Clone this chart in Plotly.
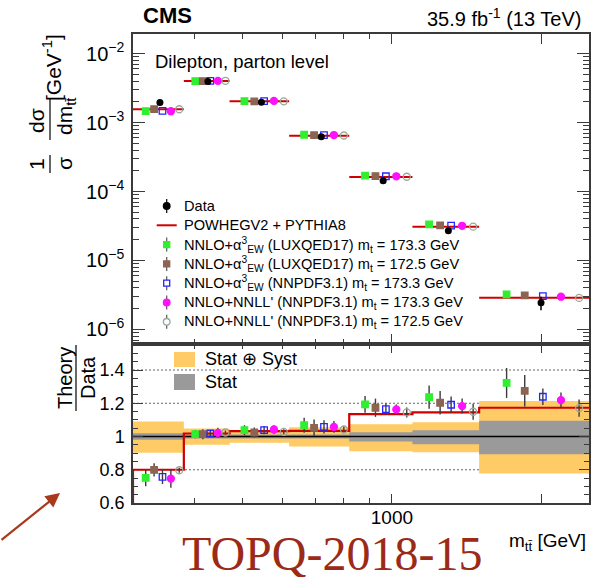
import numpy as np
import plotly.graph_objects as go

# m_tt binning [GeV]
bin_edges = [300, 380, 470, 620, 820, 1100, 1500, 2500]

# Normalised differential cross section (data) [GeV^-1]
data_xsec = [1.96e-3, 3.95e-3, 1.98e-3, 6.24e-4, 1.43e-4, 2.69e-5, 2.44e-6]

# Theory / Data ratios
ratio_powheg = [0.800, 1.018, 1.032, 1.034, 1.135, 1.145, 1.173]
ratio_lux_1733 = [0.751, 1.014, 1.038, 1.068, 1.193, 1.237, 1.322]
ratio_lux_1725 = [0.799, 1.014, 1.024, 1.052, 1.173, 1.203, 1.275]
ratio_nnpdf_ew_1733 = [0.757, 1.018, 1.038, 1.058, 1.165, 1.191, 1.239]
ratio_nnll_1733 = [0.747, 1.022, 1.042, 1.058, 1.163, 1.183, 1.219]
ratio_nnll_1725 = [0.797, 1.024, 1.028, 1.042, 1.145, 1.149, 1.171]

# Theory uncertainties on the ratio
err_lux_1733 = [0.050, 0.025, 0.030, 0.045, 0.050, 0.070, 0.090]
err_lux_1725 = [0.040, 0.030, 0.030, 0.050, 0.055, 0.070, 0.095]
err_nnpdf_ew_1733 = [0.043, 0.020, 0.025, 0.040, 0.035, 0.050, 0.050]
err_nnll_1733 = [0.055, 0.030, 0.025, 0.035, 0.030, 0.045, 0.045]
err_nnll_1725 = [0.015, 0.012, 0.015, 0.020, 0.030, 0.048, 0.052]

# Relative uncertainty bands of the measurement
tot_up = [1.090, 1.048, 1.035, 1.055, 1.074, 1.085, 1.213]
tot_dn = [0.902, 0.951, 0.963, 0.940, 0.912, 0.906, 0.778]
stat_up = [1.020, 1.012, 1.010, 1.012, 1.026, 1.038, 1.095]
stat_dn = [0.980, 0.988, 0.990, 0.988, 0.970, 0.953, 0.893]

legend_labels = [
    "Data",
    "POWHEGV2 + PYTHIA8",
    "NNLO+α<sup>3</sup><sub>EW</sub> (LUXQED17) m<sub>t</sub> = 173.3 GeV",
    "NNLO+α<sup>3</sup><sub>EW</sub> (LUXQED17) m<sub>t</sub> = 172.5 GeV",
    "NNLO+α<sup>3</sup><sub>EW</sub> (NNPDF3.1) m<sub>t</sub> = 173.3 GeV",
    "NNLO+NNLL' (NNPDF3.1) m<sub>t</sub> = 173.3 GeV",
    "NNLO+NNLL' (NNPDF3.1) m<sub>t</sub> = 172.5 GeV",
]

FONT = "Liberation Sans, Arial, sans-serif"
FRAME = "#3a3a3a"
RED = "#d00000"
ORANGE = "#fecb66"
GREY = "#9a9a9a"

theories = [
    dict(ratio=ratio_lux_1733, err=err_lux_1733, color="#2ef02e", symbol="square", fill=True, frac=0.25),
    dict(ratio=ratio_lux_1725, err=err_lux_1725, color="#8c6452", symbol="square", fill=True, frac=0.415),
    dict(ratio=ratio_nnpdf_ew_1733, err=err_nnpdf_ew_1733, color="#2424ff", symbol="square-open", fill=False, frac=0.58),
    dict(ratio=ratio_nnll_1733, err=err_nnll_1733, color="#ff10ff", symbol="circle", fill=True, frac=0.745),
    dict(ratio=ratio_nnll_1725, err=err_nnll_1725, color="#98a898", symbol="circle-open", fill=False, frac=0.91),
]

edges = np.array(bin_edges, dtype=float)
lo, hi = edges[:-1], edges[1:]
centers = 0.5 * (lo + hi)
data = np.array(data_xsec)

# plot frame in pixels
W_FIG, H_FIG = 615, 577
L, R, T, B = 133, 589, 34, 503
SPLIT = 344
PW, PH = R - L, B - T


def px(x):
    return (x - L) / PW


def py(y):
    return (B - y) / PH


dsplit = py(SPLIT)

fig = go.Figure()

# ---------------- ratio panel ----------------
def band(up, dn, color):
    xs, ys = [], []
    for i in range(len(up)):
        xs += [lo[i], hi[i]]
        ys += [up[i], up[i]]
    for i in reversed(range(len(dn))):
        xs += [hi[i], lo[i]]
        ys += [dn[i], dn[i]]
    fig.add_trace(go.Scatter(x=xs, y=ys, fill="toself", fillcolor=color, mode="lines",
                             line=dict(width=0, color=color), xaxis="x", yaxis="y",
                             hoverinfo="skip", showlegend=False))


band(tot_up, tot_dn, ORANGE)
band(stat_up, stat_dn, GREY)

# unity line
fig.add_trace(go.Scatter(x=[edges[0], edges[-1]], y=[1, 1], mode="lines",
                         line=dict(color="black", width=1.5), xaxis="x", yaxis="y",
                         hoverinfo="skip", showlegend=False))

# POWHEG step
step_x = [edges[0]] + list(edges)
step_y = [0.0] + list(ratio_powheg) + [ratio_powheg[-1]]
fig.add_trace(go.Scatter(x=step_x, y=step_y, mode="lines", line=dict(color=RED, width=2.2, shape="hv"),
                         xaxis="x", yaxis="y", hoverinfo="skip", showlegend=False))


def xpos(frac):
    return 10 ** (np.log10(lo) + frac * (np.log10(hi) - np.log10(lo)))


for th in theories:
    fig.add_trace(go.Scatter(
        x=xpos(th["frac"]), y=th["ratio"], mode="markers", xaxis="x", yaxis="y",
        marker=dict(symbol=th["symbol"], size=7 if "circle" in th["symbol"] else 6.5,
                    color=th["color"], line=dict(color=th["color"], width=1.3)),
        error_y=dict(type="data", array=th["err"], color="#3c3c3c", thickness=1.4, width=0),
        hoverinfo="skip", showlegend=False))

# ---------------- distribution panel ----------------
seg_x, seg_y = [], []
for i in range(len(lo)):
    seg_x += [lo[i], hi[i], None]
    v = ratio_powheg[i] * data[i]
    seg_y += [v, v, None]
fig.add_trace(go.Scatter(x=seg_x, y=seg_y, mode="lines", line=dict(color=RED, width=2),
                         xaxis="x2", yaxis="y2", hoverinfo="skip", showlegend=False))

for th in theories:
    fig.add_trace(go.Scatter(
        x=xpos(th["frac"]), y=np.array(th["ratio"]) * data, mode="markers", xaxis="x2", yaxis="y2",
        marker=dict(symbol=th["symbol"], size=7 if "circle" in th["symbol"] else 6.5,
                    color=th["color"], line=dict(color=th["color"], width=1.3)),
        hoverinfo="skip", showlegend=False))

fig.add_trace(go.Scatter(
    x=centers, y=data, mode="markers", xaxis="x2", yaxis="y2",
    marker=dict(symbol="circle", size=7, color="black"),
    error_y=dict(type="data", symmetric=False,
                 array=data * (np.array(tot_up) - 1), arrayminus=data * (1 - np.array(tot_dn)),
                 color="black", thickness=1.5, width=0),
    hoverinfo="skip", showlegend=False))

# ---------------- axes ----------------
common_x = dict(type="log", range=[np.log10(edges[0]), np.log10(edges[-1])],
                showline=True, linecolor=FRAME, linewidth=1.5, mirror="ticks",
                ticks="inside", tickcolor=FRAME, tickwidth=1, showgrid=False, zeroline=False)
minor_x = [400, 500, 600, 700, 800, 900]

fig.update_layout(
    xaxis=dict(common_x, domain=[0, 1], anchor="y", tickvals=[1000, 2000], ticktext=["1000", ""],
               ticklen=9, minor=dict(tickvals=minor_x, ticklen=5, ticks="inside", tickcolor=FRAME),
               tickfont=dict(family=FONT, size=19, color="black"), ticklabelstandoff=-4),
    xaxis2=dict(common_x, domain=[0, 1], anchor="y2", matches="x", tickvals=[1000, 2000],
                showticklabels=False, ticklen=10,
                minor=dict(tickvals=minor_x, ticklen=5, ticks="inside", tickcolor=FRAME)),
    yaxis=dict(domain=[0, dsplit], anchor="x", range=[0.6, 0.6 + (B - SPLIT) / 166.25],
               tickvals=[0.6, 0.8, 1.0, 1.2, 1.4], ticktext=["0.6", "0.8", "1", "1.2", "1.4"],
               ticks="inside", ticklen=10, tickcolor=FRAME, showline=True, linecolor=FRAME,
               linewidth=1.5, mirror="ticks", showgrid=False, zeroline=False,
               minor=dict(dtick=0.05, ticklen=5, ticks="inside", tickcolor=FRAME),
               tickfont=dict(family=FONT, size=18, color="black"), ticklabelstandoff=3),
    yaxis2=dict(domain=[dsplit, 1], anchor="x2", type="log", range=[-6.213, -1.714],
                tickvals=[1e-6, 1e-5, 1e-4, 1e-3, 1e-2],
                ticktext=["10<sup>−6</sup>", "10<sup>−5</sup>", "10<sup>−4</sup>",
                          "10<sup>−3</sup>", "10<sup>−2</sup>"],
                ticks="inside", ticklen=12, tickcolor=FRAME, showline=True, linecolor=FRAME,
                linewidth=1.5, mirror="ticks", showgrid=False, zeroline=False,
                minor=dict(tickvals=[k * 10.0 ** e for e in range(-7, -1) for k in range(2, 10)],
                           ticklen=6, ticks="inside", tickcolor=FRAME),
                tickfont=dict(family=FONT, size=20, color="black"), ticklabelstandoff=3),
    width=W_FIG, height=H_FIG,
    margin=dict(l=L, r=W_FIG - R, t=T, b=H_FIG - B, pad=0),
    paper_bgcolor="white", plot_bgcolor="white", showlegend=False,
    font=dict(family=FONT, color="black"),
)

shapes = []
annotations = []

# dotted reference lines in the ratio panel
for yv in [0.8, 1.2, 1.4]:
    shapes.append(dict(type="line", xref="paper", yref="y", x0=0, x1=1, y0=yv, y1=yv,
                       line=dict(color="#666666", width=1, dash="2px,2px"), layer="below"))


def text(x, y, s, size, anchor="left", angle=0, family=FONT, color="black", yanchor="middle"):
    annotations.append(dict(x=px(x), y=py(y), xref="paper", yref="paper", text=s, showarrow=False,
                            xanchor=anchor, yanchor=yanchor, textangle=angle,
                            font=dict(family=family, size=size, color=color)))


# header
text(141, 16, "<b>CMS</b>", 22)
text(583, 17, "35.9 fb<sup>-1</sup> (13 TeV)", 20, anchor="right")
text(153, 61, "Dilepton, parton level", 18.5)

# axis titles
text(52, 68, "[GeV<sup>-1</sup>]", 21, anchor="center", angle=-90)
text(36, 121, "dσ", 21, anchor="center", angle=-90)
text(66, 117, "dm<sub>tt̄</sub>", 21, anchor="center", angle=-90)
text(36, 164, "1", 21, anchor="center", angle=-90)
text(64, 164, "σ", 21, anchor="center", angle=-90)
shapes.append(dict(type="line", xref="paper", yref="paper", x0=px(50), x1=px(50), y0=py(98), y1=py(140),
                   line=dict(color="black", width=1.2)))
shapes.append(dict(type="line", xref="paper", yref="paper", x0=px(50), x1=px(50), y0=py(155), y1=py(173),
                   line=dict(color="black", width=1.2)))

text(65, 378, "Theory", 20, anchor="center", angle=-90)
text(88, 378, "Data", 20, anchor="center", angle=-90)
shapes.append(dict(type="line", xref="paper", yref="paper", x0=px(76), x1=px(76), y0=py(345), y1=py(411),
                   line=dict(color="black", width=1.2)))

text(588, 542, "m<sub>tt̄</sub> [GeV]", 19, anchor="right")

# legend of the distribution panel
mx, tx = 166.7, 181.7
for i, lab in enumerate(legend_labels):
    yy = 206 + 19.3 * i
    text(tx, yy, lab, 14.6)
    if i == 1:
        shapes.append(dict(type="line", xref="paper", yref="paper", x0=px(156.7), x1=px(176.7),
                           y0=py(yy), y1=py(yy), line=dict(color=RED, width=2)))
        continue
    shapes.append(dict(type="line", xref="paper", yref="paper", xsizemode="pixel", ysizemode="pixel",
                       xanchor=px(mx), yanchor=py(yy), x0=0, x1=0, y0=-7, y1=7,
                       line=dict(color="black" if i == 0 else "#555555", width=1.2)))
    if i == 0:
        col, shp, filled = "black", "circle", True
    else:
        th = theories[i - 2]
        col, shp, filled = th["color"], ("circle" if "circle" in th["symbol"] else "rect"), th["fill"]
    r = 3.3 if shp == "circle" else 3.0
    shapes.append(dict(type=shp, xref="paper", yref="paper", xsizemode="pixel", ysizemode="pixel",
                       xanchor=px(mx), yanchor=py(yy), x0=-r, x1=r, y0=-r, y1=r,
                       fillcolor=col if filled else "white", line=dict(color=col, width=1.3)))

# legend of the ratio panel
shapes.append(dict(type="rect", xref="paper", yref="paper", x0=px(174), x1=px(195), y0=py(367), y1=py(352),
                   fillcolor=ORANGE, line=dict(width=0)))
shapes.append(dict(type="rect", xref="paper", yref="paper", x0=px(174), x1=px(195), y0=py(390), y1=py(374),
                   fillcolor=GREY, line=dict(width=0)))
text(203, 359, "Stat ⊕ Syst", 18)
text(203, 382, "Stat", 18)

# slide label and pointer
text(332, 553, "TOPQ-2018-15", 48, anchor="center", family="Liberation Serif, Times New Roman, serif",
     color="#9b2a16")
annotations.append(dict(x=px(60), y=py(493), xref="paper", yref="paper", text="", showarrow=True,
                        ax=-62, ay=48, arrowhead=2, arrowsize=1.3, arrowwidth=2.2, arrowcolor="#a8391c"))

fig.update_layout(shapes=shapes, annotations=annotations)
fig.write_html("out.html")
